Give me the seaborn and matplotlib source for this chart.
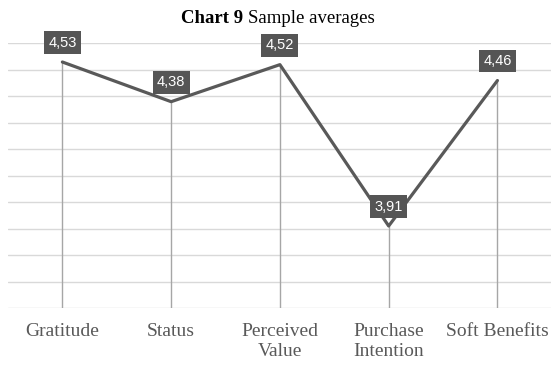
import matplotlib
matplotlib.use("Agg")
import matplotlib.pyplot as plt
import seaborn as sns
import pandas as pd
import numpy as np

# Sample averages per construct
categories = ["Gratitude", "Status", "Perceived\nValue", "Purchase\nIntention", "Soft Benefits"]
averages = [4.53, 4.38, 4.52, 3.91, 4.46]
value_labels = ["4,53", "4,38", "4,52", "3,91", "4,46"]
y_ticks = [3.6, 3.7, 3.8, 3.9, 4.0, 4.1, 4.2, 4.3, 4.4, 4.5, 4.6]

df = pd.DataFrame({"construct": categories, "average": averages})

sns.set_theme(style="white")
plt.rcParams["font.family"] = ["Liberation Serif", "DejaVu Serif"]

fig = plt.figure(figsize=(5.51, 3.67), dpi=100)
ax = fig.add_axes([0.0145, 0.1608, 0.987, 0.7207])

line_color = "#595959"
ymin = y_ticks[0]

# drop lines from each point to the category axis
pos = np.arange(len(categories))
ax.vlines(pos, ymin, averages, color="#a6a6a6", lw=1.0, zorder=2)

sns.lineplot(data=df, x="construct", y="average", ax=ax, color=line_color,
             lw=2.3, sort=False, zorder=3)

# value labels in dark boxes
for x, v, lab in zip(pos, averages, value_labels):
    ax.annotate(lab, (x, v), xytext=(0, 14), textcoords="offset points",
                ha="center", va="center", color="white", fontsize=10.5,
                family=["Liberation Sans", "DejaVu Sans"], zorder=5,
                bbox=dict(boxstyle="square,pad=0.3", fc="#555555", ec="none"))

ax.set_xlim(-0.5, len(categories) - 0.5)
ax.set_ylim(y_ticks[0], y_ticks[-1])
ax.set_yticks(y_ticks)
ax.set_yticklabels([])
ax.yaxis.grid(True, color="#d9d9d9", lw=1.0)
ax.set_axisbelow(True)
for s in ax.spines.values():
    s.set_visible(False)
ax.tick_params(axis="x", length=0, pad=11, labelsize=14, labelcolor="#595959")
ax.tick_params(axis="y", length=0)
ax.set_xlabel("")
ax.set_ylabel("")

# Title: bold chart number followed by regular caption, centred
ty = 1 - 23 / 367
t1 = fig.text(0, ty, "Chart 9", fontsize=13.5, fontweight="bold", color="black", va="baseline")
t2 = fig.text(0, ty, "Sample averages", fontsize=13.5, color="black", va="baseline")
fig.canvas.draw()
r = fig.canvas.get_renderer()
w1 = t1.get_window_extent(r).width
w2 = t2.get_window_extent(r).width
gap = 4.5
total = w1 + gap + w2
cx = 278
x0 = cx - total / 2
W = fig.get_figwidth() * fig.dpi
t1.set_x(x0 / W)
t2.set_x((x0 + w1 + gap) / W)

fig.savefig("out.png", dpi=100)
